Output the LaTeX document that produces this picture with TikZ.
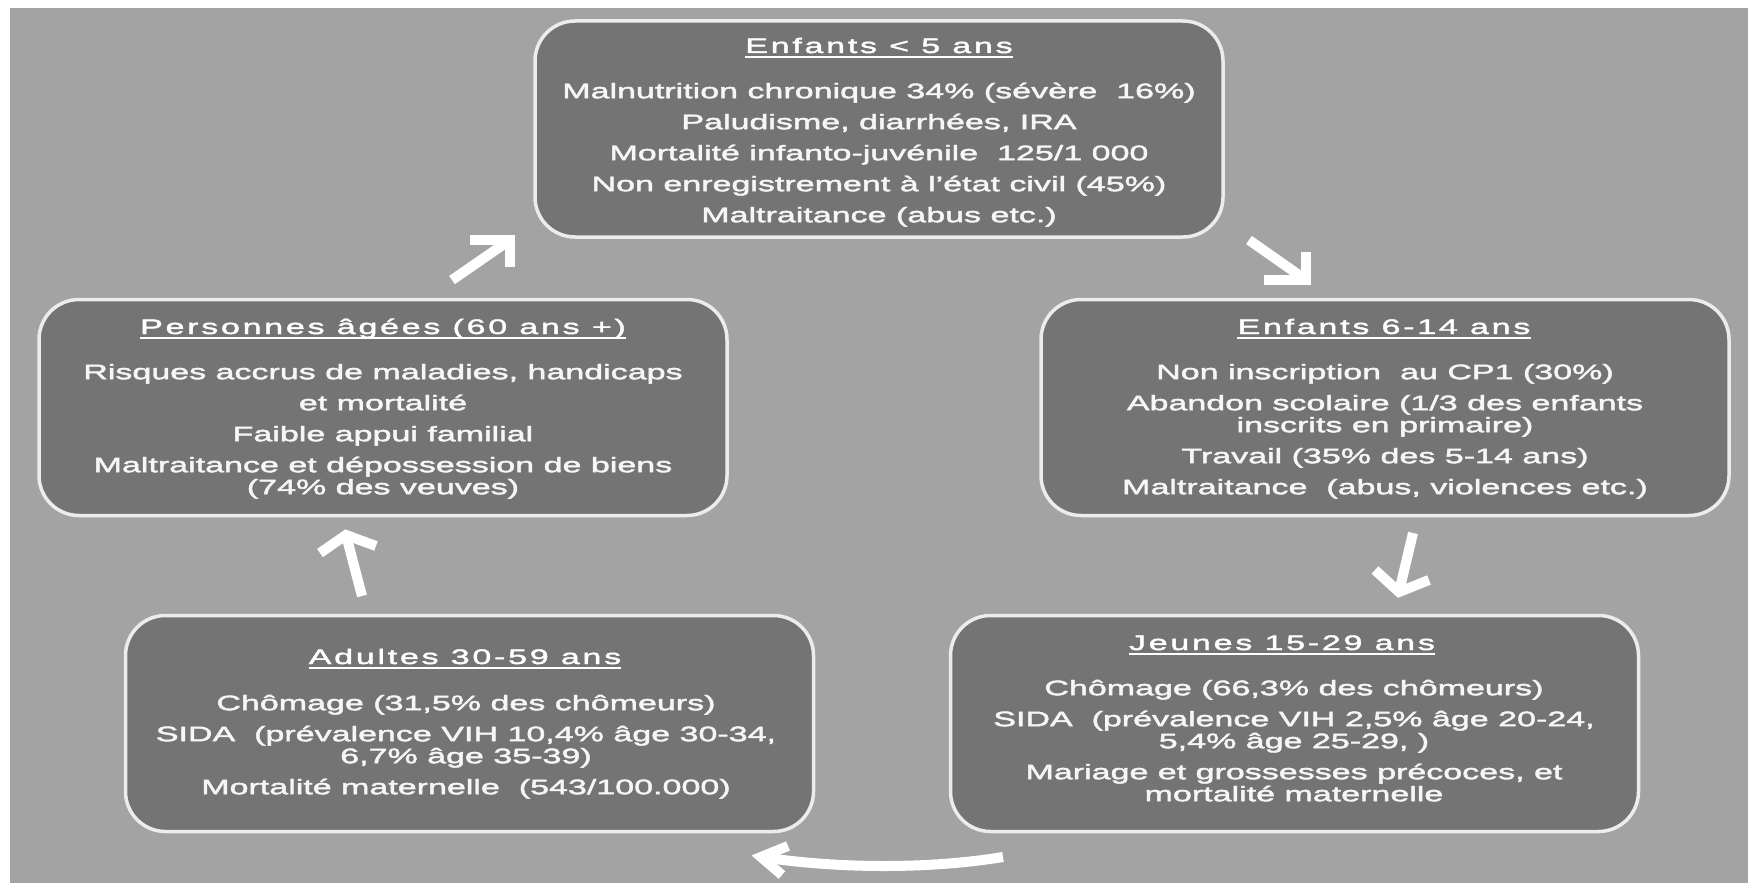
\documentclass[tikz,border=0pt]{standalone}
\usepackage{fontspec}
\setmainfont{Liberation Sans}[FakeStretch=1.62,FakeBold=2.2]
\newfontfamily\ttlfont{Liberation Sans}[FakeStretch=1.62,FakeBold=2.0,LetterSpace=13]
\usetikzlibrary{calc}
\definecolor{bgc}{RGB}{162,163,162}
\definecolor{boxc}{RGB}{116,116,116}
\definecolor{edgec}{RGB}{236,236,236}
\definecolor{txtc}{RGB}{246,246,246}
\newcommand\firststrut{\rule{0pt}{18pt}}
\begin{document}
\begin{tikzpicture}[x=1pt,y=-1pt,
  agebox/.style={draw=edgec, line width=3.5pt, fill=boxc, rounded corners=40pt,
    minimum width=688pt, minimum height=216pt, inner sep=0pt},
  ttl/.style={text=white, font=\ttlfont\fontsize{21}{22}\selectfont, inner sep=0pt, anchor=base},
  body/.style={text=txtc, font=\fontsize{21}{22}\selectfont, align=center, inner sep=0pt, anchor=north},
  uline/.style={draw=white, line width=2.5pt},
  arr/.style={draw=white, line width=10pt, line join=miter, line cap=butt}]
\useasboundingbox (0,0) rectangle (1748,883);
\fill[white] (0,0) rectangle (1748,883);
\fill[bgc] (10,8) rectangle (1748,883);

% boxes
\node[agebox] (b1) at (879,129) {};
\node[agebox] (b2) at (383,407.5) {};
\node[agebox] (b3) at (1385,407.5) {};
\node[agebox] (b4) at (1294.5,723.5) {};
\node[agebox] (b5) at (469.5,723.5) {};

% titles
\node[ttl] (t1) at (879,53) {Enfants < 5 ans};
\node[ttl] (t2) at (383,334) {Personnes âgées (60 ans +)};
\node[ttl] (t3) at (1384,334) {Enfants 6-14 ans};
\node[ttl] (t4) at (1282,650) {Jeunes 15-29 ans};
\node[ttl] (t5) at (465,664) {Adultes 30-59 ans};
\foreach \t in {t1,t2,t3,t4,t5}{
  \draw[uline] ([yshift=-4pt]\t.base west) -- ([yshift=-4pt]\t.base east);
}

% bodies
\node[body] (x1) at (879,80) {\firststrut Malnutrition chronique 34\% (sévère\ \ 16\%)\\[9pt]
  Paludisme, diarrhées, IRA\\[9pt]
  Mortalité infanto-juvénile\ \ 125/1 000\\[9pt]
  Non enregistrement à l'état civil (45\%)\\[9pt]
  Maltraitance (abus etc.)};
\node[body] (x2) at (383,361) {\firststrut Risques accrus de maladies, handicaps\\[9pt]
  et mortalité\\[9pt]
  Faible appui familial\\[9pt]
  Maltraitance et dépossession de biens\\
  (74\% des veuves)};
\node[body] (x3) at (1385,361) {\firststrut Non inscription\ \ au CP1 (30\%)\\[9pt]
  Abandon scolaire (1/3 des enfants\\
  inscrits en primaire)\\[9pt]
  Travail (35\% des 5-14 ans)\\[9pt]
  Maltraitance\ \ (abus, violences etc.)};
\node[body] (x4) at (1294,677) {\firststrut Chômage (66,3\% des chômeurs)\\[9pt]
  SIDA\ \ (prévalence VIH 2,5\% âge 20-24,\\
  5,4\% âge 25-29, )\\[9pt]
  Mariage et grossesses précoces, et\\
  mortalité maternelle};
\node[body] (x5) at (466,692) {\firststrut Chômage (31,5\% des chômeurs)\\[9pt]
  SIDA\ \ (prévalence VIH 10,4\% âge 30-34,\\
  6,7\% âge 35-39)\\[9pt]
  Mortalité maternelle\ \ (543/100.000)};

% arrows
\coordinate (a1s) at (452,280);
\coordinate (a1e) at (510,240);
\coordinate (a1h) at (470,240);
\coordinate (a1k) at (510,267);
\draw[arr] (a1s) -- (a1e);
\draw[arr] (a1h) -- (a1e) -- (a1k);

\coordinate (a2s) at (1249,240);
\coordinate (a2e) at (1306,280);
\coordinate (a2h) at (1264,280);
\coordinate (a2k) at (1306,252);
\draw[arr] (a2s) -- (a2e);
\draw[arr] (a2h) -- (a2e) -- (a2k);

\coordinate (a3s) at (1413,533);
\coordinate (a3e) at (1399,592);
\coordinate (a3h) at (1375,570);
\coordinate (a3k) at (1429,580);
\draw[arr] (a3s) -- (a3e);
\draw[arr] (a3h) -- (a3e) -- (a3k);

\coordinate (a4s) at (1003,857);
\coordinate (a4e) at (761,857);
\coordinate (a4h) at (788,846);
\coordinate (a4k) at (782,875);
\draw[arr] (a4s) .. controls (930,869) and (840,869) .. (a4e);
\draw[arr] (a4h) -- (a4e) -- (a4k);

\coordinate (a5s) at (362,596);
\coordinate (a5e) at (346,535);
\coordinate (a5h) at (320,553);
\coordinate (a5k) at (376,546);
\draw[arr] (a5s) -- (a5e);
\draw[arr] (a5h) -- (a5e) -- (a5k);
\end{tikzpicture}
\end{document}
